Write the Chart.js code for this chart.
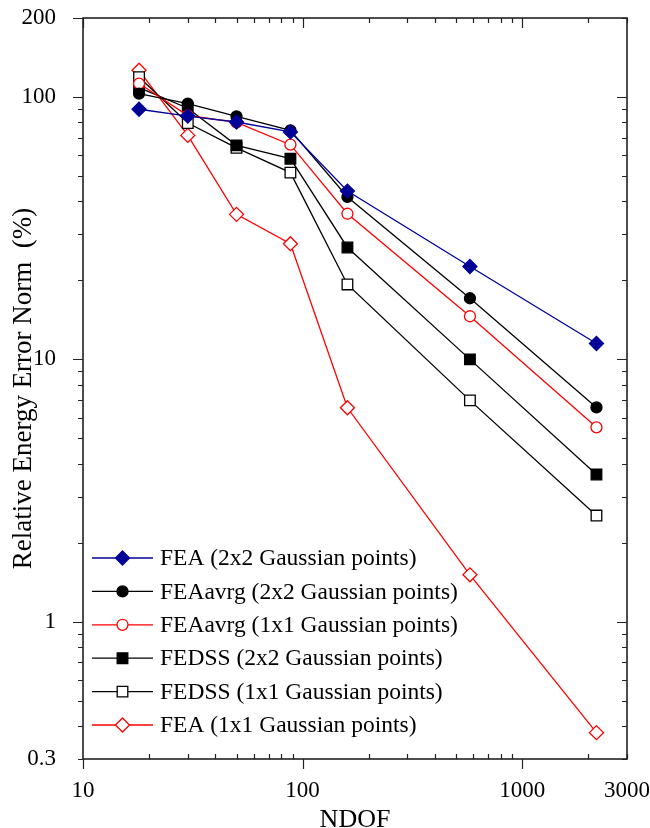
<!DOCTYPE html>
<html>
<head>
<meta charset="utf-8">
<script src="https://cdn.jsdelivr.net/npm/chart.js@4.4.1/dist/chart.umd.min.js"></script>
<style>
    html, body { margin: 0; padding: 0; background: #ffffff; }
    canvas { display: block; }
</style>
</head>
<body>
<canvas id="errorChart" width="650" height="828"></canvas>
<script>

// =====================================
// DATA
// =====================================

const ndof = [18, 30, 50, 88, 160, 578, 2178];

const feaGauss2x2 = [89.8, 84.6, 80.3, 73.6, 43.8, 22.6, 11.5];
const feaAvrgGauss2x2 = [103, 94.4, 84.4, 74.6, 41.6, 17.1, 6.56];
const feaAvrgGauss1x1 = [112.5, 85, 80, 65.8, 35.9, 14.6, 5.51];
const fedssGauss2x2 = [108.6, 90.6, 65.4, 58.2, 26.7, 10, 3.64];
const fedssGauss1x1 = [119, 79.6, 64, 51.5, 19.3, 6.98, 2.54];
const feaGauss1x1 = [126.4, 71.4, 35.7, 27.6, 6.54, 1.51, 0.378];

const seriesLabels = [
    "FEA (2x2 Gaussian points)",
    "FEAavrg (2x2 Gaussian points)",
    "FEAavrg (1x1 Gaussian points)",
    "FEDSS (2x2 Gaussian points)",
    "FEDSS (1x1 Gaussian points)",
    "FEA (1x1 Gaussian points)"
];

const xTickLabels = [10, 100, 1000, 3000];
const yTickLabels = [0.3, 1, 10, 100, 200];

window.onload = function () {

    const ctx = document.getElementById("errorChart");

    const serif = "'Liberation Serif', 'Times New Roman', serif";

    Chart.defaults.font.family = serif;
    Chart.defaults.color = "#000000";

    // =====================================
    // SERIES HELPER
    // =====================================

    function series(label, values, color, style, fill, radius) {
        return {
            label: label,
            data: values.map((v, i) => ({ x: ndof[i], y: v })),
            borderColor: color,
            borderWidth: 1.3,
            pointStyle: style,
            pointRadius: radius,
            pointHoverRadius: radius,
            pointBackgroundColor: fill,
            pointBorderColor: color,
            pointBorderWidth: 1.3,
            tension: 0,
            fill: false
        };
    }

    const navy = "#000099";
    const red = "#ff0000";
    const black = "#000000";

    const datasets = [
        series(seriesLabels[0], feaGauss2x2, navy, "rectRot", navy, 7),
        series(seriesLabels[1], feaAvrgGauss2x2, black, "circle", black, 5.5),
        series(seriesLabels[2], feaAvrgGauss1x1, red, "circle", "#ffffff", 5.5),
        series(seriesLabels[3], fedssGauss2x2, black, "rect", black, 7.5),
        series(seriesLabels[4], fedssGauss1x1, black, "rect", "#ffffff", 7.5),
        series(seriesLabels[5], feaGauss1x1, red, "rectRot", "#ffffff", 7)
    ];

    // =====================================
    // FRAME + INWARD / OUTWARD TICKS
    // =====================================

    function logSteps(min, max) {
        const out = [];
        let d = Math.pow(10, Math.floor(Math.log10(min)));
        while (d <= max) {
            for (let k = 1; k <= 9; k++) {
                const v = k * d;
                if (v >= min * 0.9999 && v <= max * 1.0001) {
                    out.push({ v: v, major: k === 1 });
                }
            }
            d *= 10;
        }
        return out;
    }

    const frameTicks = {
        id: "frameTicks",
        beforeDatasetsDraw(chart) {
            const c = chart.ctx;
            const a = chart.chartArea;
            const xs = chart.scales.x;
            const ys = chart.scales.y;

            c.save();
            c.strokeStyle = "#222222";
            c.lineWidth = 1.6;
            c.strokeRect(a.left, a.top, a.right - a.left, a.bottom - a.top);

            c.lineWidth = 1.2;
            c.beginPath();

            logSteps(xs.min, xs.max).forEach((t) => {
                const px = Math.round(xs.getPixelForValue(t.v)) + 0.5;
                const len = t.major ? 10 : 5;
                // bottom: major outward, minor inward
                if (t.major) {
                    c.moveTo(px, a.bottom);
                    c.lineTo(px, a.bottom + len);
                } else {
                    c.moveTo(px, a.bottom);
                    c.lineTo(px, a.bottom - len);
                }
                // top: inward
                c.moveTo(px, a.top);
                c.lineTo(px, a.top + len);
            });

            logSteps(ys.min, ys.max).forEach((t) => {
                const py = Math.round(ys.getPixelForValue(t.v)) + 0.5;
                const major = t.major || yTickLabels.includes(t.v);
                // left: outward
                c.moveTo(a.left, py);
                c.lineTo(a.left - (major ? 10 : 5), py);
                // right: inward
                c.moveTo(a.right, py);
                c.lineTo(a.right - (t.major ? 10 : 5), py);
            });

            c.stroke();
            c.restore();
        }
    };

    // =====================================
    // LEGEND INSIDE THE PLOT
    // =====================================

    const insideLegend = {
        id: "insideLegend",
        afterDatasetsDraw(chart) {
            const c = chart.ctx;
            const a = chart.chartArea;
            const x0 = a.left + 9;
            const x1 = a.left + 70;
            const xm = (x0 + x1) / 2;
            const rowH = 33.4;
            const y0 = a.bottom - 201;

            c.save();
            chart.data.datasets.forEach((ds, i) => {
                const yy = y0 + i * rowH;

                c.strokeStyle = ds.borderColor;
                c.lineWidth = ds.borderWidth;
                c.beginPath();
                c.moveTo(x0, yy);
                c.lineTo(x1, yy);
                c.stroke();

                c.fillStyle = ds.pointBackgroundColor;
                c.strokeStyle = ds.pointBorderColor;
                c.lineWidth = ds.pointBorderWidth;
                Chart.helpers.drawPoint(c, {
                    pointStyle: ds.pointStyle,
                    radius: ds.pointRadius,
                    borderWidth: ds.pointBorderWidth,
                    rotation: 0
                }, xm, yy);

                c.fillStyle = "#000000";
                c.font = "23.5px " + serif;
                c.textAlign = "left";
                c.textBaseline = "middle";
                c.fillText(ds.label, a.left + 77, yy + 1);
            });
            c.restore();
        }
    };

    // =====================================
    // CHART
    // =====================================

    new Chart(ctx, {

        type: "line",

        data: { datasets: datasets },

        options: {

            responsive: false,

            animation: false,

            layout: {
                padding: { top: 18, right: 23, left: 0, bottom: 0 }
            },

            plugins: {
                legend: { display: false },
                tooltip: { enabled: false }
            },

            scales: {

                x: {
                    type: "logarithmic",
                    min: 10,
                    max: 3000,
                    afterBuildTicks: (scale) => {
                        scale.ticks = xTickLabels.map((v) => ({ value: v }));
                    },
                    afterFit: (scale) => {
                        scale.height = 69;
                        scale.paddingLeft = 0;
                        scale.paddingRight = 0;
                    },
                    grid: { display: false },
                    border: { display: false },
                    ticks: {
                        autoSkip: false,
                        maxRotation: 0,
                        padding: 10,
                        font: { size: 23 },
                        color: "#000000",
                        callback: (v) => String(v)
                    },
                    title: {
                        display: true,
                        text: "NDOF",
                        font: { size: 26, lineHeight: 1 },
                        padding: { top: 0, bottom: -5 }
                    }
                },

                y: {
                    type: "logarithmic",
                    min: 0.3,
                    max: 200,
                    afterBuildTicks: (scale) => {
                        scale.ticks = yTickLabels.map((v) => ({ value: v }));
                    },
                    afterFit: (scale) => {
                        scale.width = 83;
                        scale.paddingTop = 0;
                        scale.paddingBottom = 0;
                    },
                    grid: { display: false },
                    border: { display: false },
                    ticks: {
                        autoSkip: false,
                        padding: 19,
                        font: { size: 23 },
                        color: "#000000",
                        callback: (v) => String(v)
                    },
                    title: {
                        display: true,
                        text: "Relative Energy Error Norm  (%)",
                        font: { size: 27, lineHeight: 1.2 },
                        padding: { top: 8, bottom: 0 }
                    }
                }
            }
        },

        plugins: [frameTicks, insideLegend]
    });
};
</script>
</body>
</html>
